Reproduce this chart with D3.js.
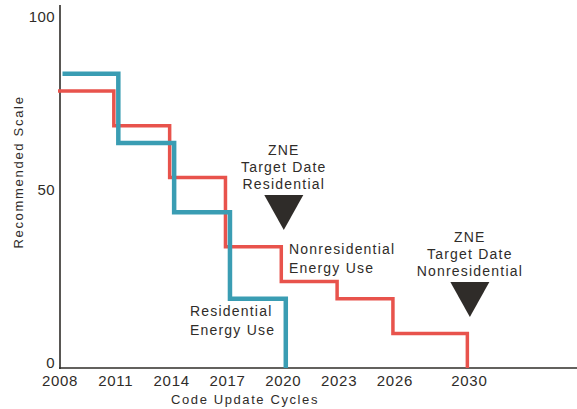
<!DOCTYPE html>
<html><head><meta charset="utf-8">
<script src="https://cdn.jsdelivr.net/npm/d3@7"></script>
<style>
html,body{margin:0;padding:0;background:#fff;}
text{font-family:"Liberation Sans",Arial,sans-serif;fill:#2f2c29;}
</style></head>
<body><svg id="c" width="577" height="409"></svg>
<script>
const tickYears = [2008, 2011, 2014, 2017, 2020, 2023, 2026, 2030];
const yTicks = [0, 50, 100];
const nonresYears = [2008, 2011, 2014, 2017, 2020, 2023, 2026, 2030];
const nonresValues = [80, 70, 55, 35, 25, 20, 10, 0];
const resYears = [2008, 2011, 2014, 2017, 2020];
const resValues = [85, 65, 45, 20, 0];
const zneYears = [2020, 2030];
const zneLabels = [["ZNE", "Target Date", "Residential"], ["ZNE", "Target Date", "Nonresidential"]];

const svg = d3.select("#c");
const x = d3.scaleLinear().domain([2008, 2036]).range([59, 580]);
const y = d3.scaleLinear().domain([0, 100]).range([368, 21.75]);
const ink = "#2f2c29";

// axes lines
svg.append("line").attr("x1", 60).attr("x2", 60).attr("y1", 5).attr("y2", 369).attr("stroke", ink).attr("stroke-width", 1.6);
svg.append("line").attr("x1", 59).attr("x2", 577).attr("y1", 368).attr("y2", 368).attr("stroke", ink).attr("stroke-width", 1.6);

// x tick labels
svg.selectAll(".xt").data(tickYears).enter().append("text")
  .attr("x", d => x(d) + 1).attr("y", 386).attr("text-anchor", "middle")
  .style("font-size", "15px").style("letter-spacing", "0.7px").text(d => d);
// y tick labels
svg.selectAll(".yt").data(yTicks).enter().append("text")
  .attr("x", 55).attr("y", d => y(d)).attr("text-anchor", "end")
  .style("font-size", "15px").style("letter-spacing", "0.4px").text(d => d);

// titles
svg.append("text").attr("x", 245).attr("y", 404).attr("text-anchor", "middle")
  .style("font-size", "13px").style("letter-spacing", "1.6px").text("Code Update Cycles");
svg.append("text").attr("transform", "translate(23,172) rotate(-90)").attr("text-anchor", "middle")
  .style("font-size", "13px").style("letter-spacing", "1.7px").text("Recommended Scale");

const line = d3.line().x(d => x(d[0])).y(d => y(d[1])).curve(d3.curveStepAfter);

// nonresidential (red)
svg.append("path").datum(d3.zip(nonresYears, nonresValues))
  .attr("d", line).attr("fill", "none").attr("stroke", "#e8534c").attr("stroke-width", 3.5)
  .attr("transform", "translate(-1,0)");
// residential (blue)
svg.append("path").datum(d3.zip(resYears, resValues))
  .attr("d", line).attr("fill", "none").attr("stroke", "#3a9db3").attr("stroke-width", 4.5)
  .attr("transform", "translate(3.5,0)");

// labels for series
function block(lines, xx, yy, anchor, lh) {
  const t = svg.append("text").attr("text-anchor", anchor).style("font-size", "14px").style("letter-spacing", "1.2px");
  lines.forEach((s, i) => t.append("tspan").attr("x", xx).attr("y", yy + i * lh).text(s));
}
block(["Nonresidential", "Energy Use"], 289, 254, "start", 19);
block(["Residential", "Energy Use"], 190, 316, "start", 19);

// ZNE markers
zneYears.forEach((yr, i) => {
  const cx = x(yr) + 1.5;
  const top = i === 0 ? 195 : 282;
  svg.append("path").attr("d", `M${cx - 19.5},${top}L${cx + 19.5},${top}L${cx},${top + 35}Z`).attr("fill", ink);
  block(zneLabels[i], cx, top - 40, "middle", 17);
});
</script></body></html>
